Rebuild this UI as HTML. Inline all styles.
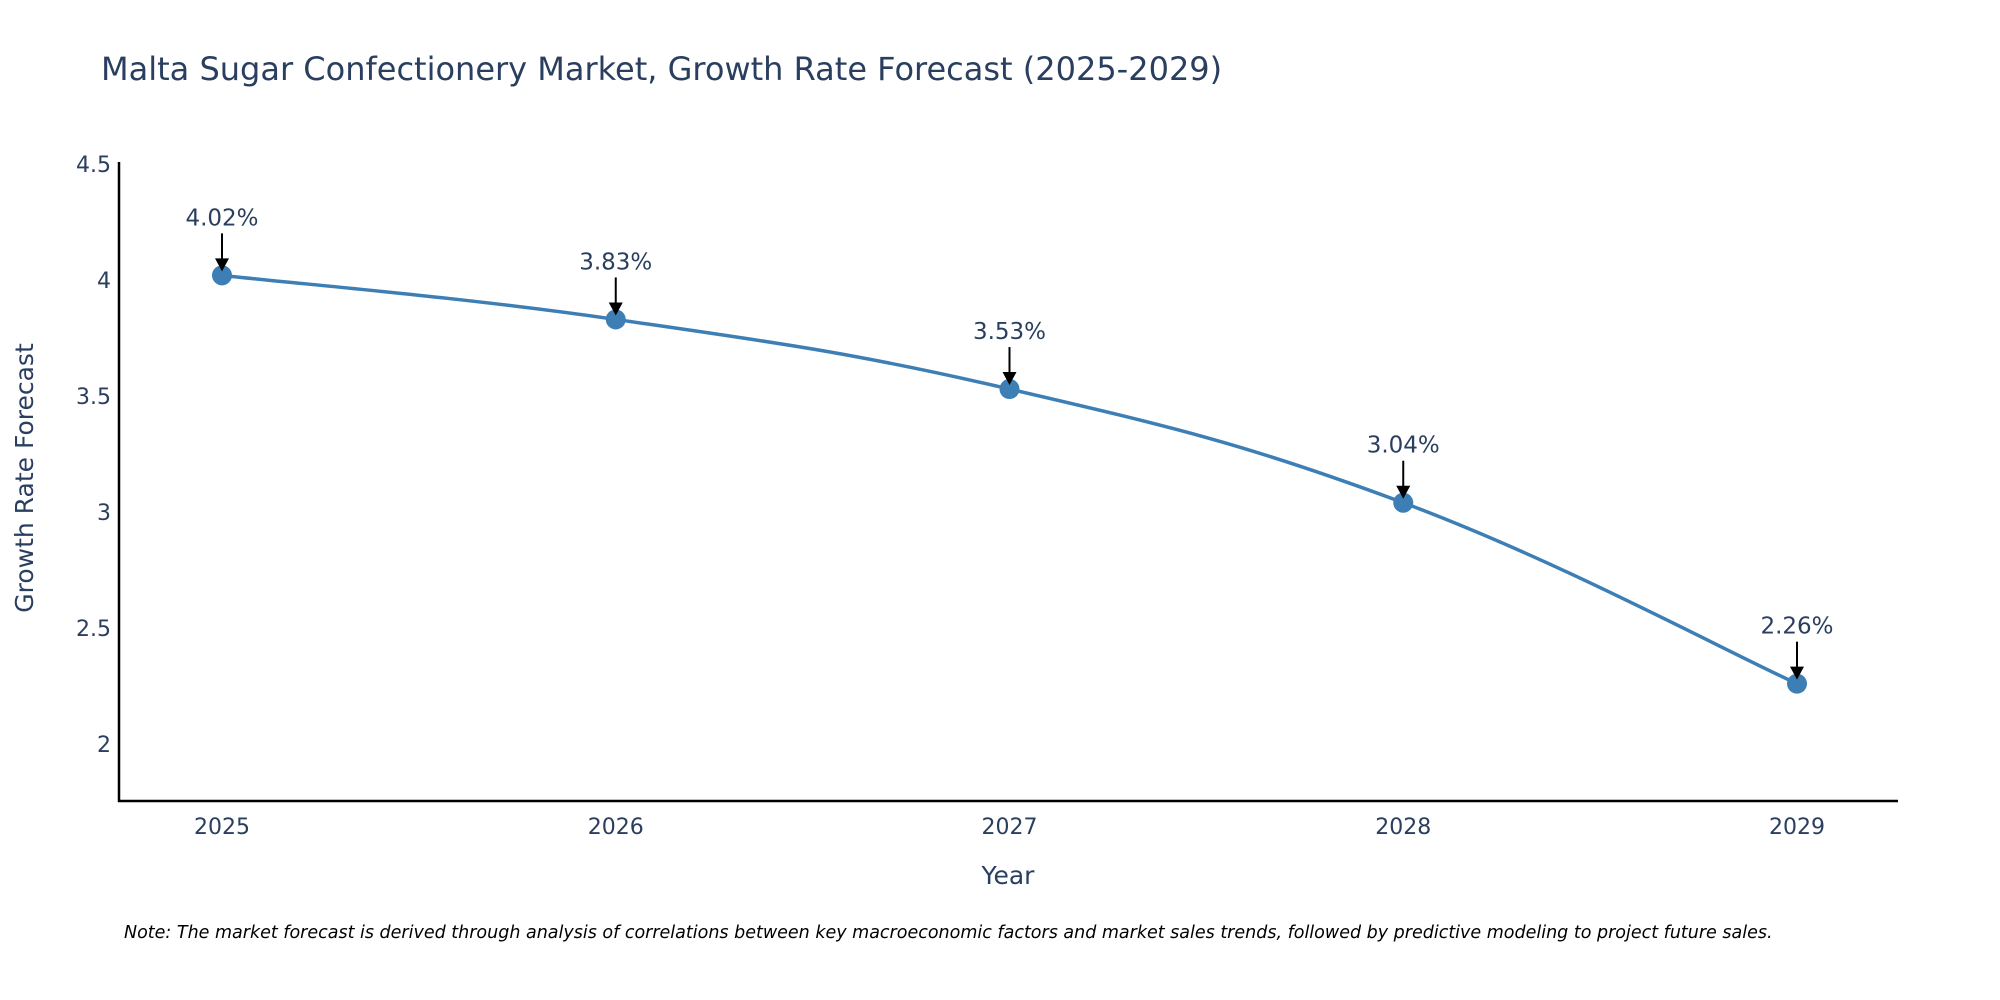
<!DOCTYPE html>
<html><head><meta charset="utf-8"><style>
body{margin:0;background:#fff;overflow:hidden;}
svg{display:block;font-family:"DejaVu Sans","Liberation Sans",sans-serif;}
</style></head><body>
<svg id="chart" width="2000" height="1000" viewBox="0 0 2000 1000">
<text x="101" y="80" font-size="32" fill="#2a3f5f">Malta Sugar Confectionery Market, Growth Rate Forecast (2025-2029)</text>
<g id="yticks"></g>
<g id="xticks"></g>
<line x1="119" y1="162" x2="119" y2="802" stroke="#000" stroke-width="2.5"/>
<line x1="118" y1="801" x2="1898" y2="801" stroke="#000" stroke-width="2.5"/>
<path id="line" fill="none" stroke="#3d7fb5" stroke-width="3.5"/>
<g id="points"></g>
<g id="annots"></g>
<text x="1008" y="884" font-size="25" fill="#2a3f5f" text-anchor="middle">Year</text>
<text transform="translate(33,478) rotate(-90)" font-size="25" fill="#2a3f5f" text-anchor="middle">Growth Rate Forecast</text>
<text x="124" y="938" font-size="17.5" font-style="italic" fill="#000">Note: The market forecast is derived through analysis of correlations between key macroeconomic factors and market sales trends, followed by predictive modeling to project future sales.</text>
</svg>
<script>
const years=[2025,2026,2027,2028,2029];
const values=[4.02,3.83,3.53,3.04,2.26];
const labels=["4.02%","3.83%","3.53%","3.04%","2.26%"];
const yTicks=[2,2.5,3,3.5,4,4.5];
const yTickLabels=["2","2.5","3","3.5","4","4.5"];
const NS="http://www.w3.org/2000/svg";
function xs(y){return 222+(y-2025)*393.75;}
function ys(v){return 744-(v-2)*232;}
function mk(t,a,p){const e=document.createElementNS(NS,t);for(const k in a)e.setAttribute(k,a[k]);p.appendChild(e);return e;}
const yt=document.getElementById('yticks');
yTicks.forEach((v,i)=>{const t=mk('text',{x:111,y:ys(v)+8,'font-size':22,fill:'#2a3f5f','text-anchor':'end'},yt);t.textContent=yTickLabels[i];

});
const xt=document.getElementById('xticks');
years.forEach(y=>{const t=mk('text',{x:xs(y),y:834,'font-size':22,fill:'#2a3f5f','text-anchor':'middle'},xt);t.textContent=y;

});
const P=years.map((y,i)=>[xs(y),ys(values[i])]);
let d=`M${P[0][0]},${P[0][1]}`;
for(let i=0;i<P.length-1;i++){const p0=P[Math.max(0,i-1)],p1=P[i],p2=P[i+1],p3=P[Math.min(P.length-1,i+2)];const s=5;
d+=` C${p1[0]+(p2[0]-p0[0])/s},${p1[1]+(p2[1]-p0[1])/s} ${p2[0]-(p3[0]-p1[0])/s},${p2[1]-(p3[1]-p1[1])/s} ${p2[0]},${p2[1]}`;}
document.getElementById('line').setAttribute('d',d);
const pg=document.getElementById('points'),ag=document.getElementById('annots');
P.forEach((p,i)=>{const c=mk('circle',{cx:p[0],cy:p[1],r:10,fill:'#3d7fb5'},pg);


const l=mk('line',{x1:p[0],y1:p[1]-42,x2:p[0],y2:p[1]-16,stroke:'#000','stroke-width':2},ag);


const h=mk('polygon',{points:`${p[0]-7},${p[1]-17} ${p[0]+7},${p[1]-17} ${p[0]},${p[1]-4}`,fill:'#000'},ag);


const t=mk('text',{x:p[0],y:p[1]-50,'font-size':23,fill:'#2a3f5f','text-anchor':'middle'},ag);t.textContent=labels[i];

});
</script>
</body></html>
